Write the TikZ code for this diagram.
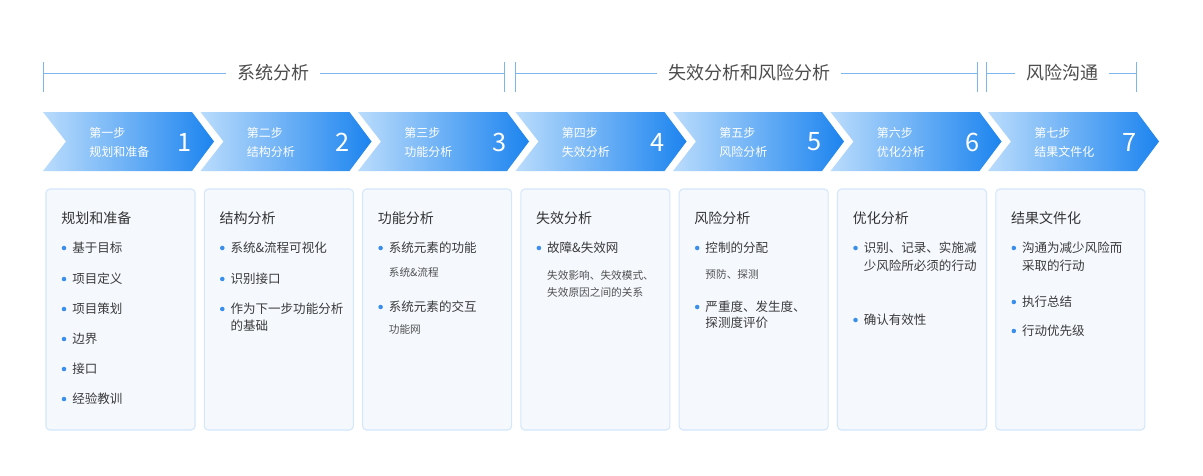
\documentclass[tikz,border=0pt]{standalone}
\usepackage{fontspec}
\setmainfont{Noto Sans CJK SC}
\definecolor{brc}{HTML}{7DB6EE}
\definecolor{brtxt}{HTML}{4D4D4D}
\definecolor{chl}{HTML}{BADCFC}
\definecolor{chr}{HTML}{1C84EF}
\definecolor{cardf}{HTML}{F5F9FE}
\definecolor{cardb}{HTML}{D3E6FA}
\definecolor{dotc}{HTML}{3A8EEE}
\definecolor{ttl}{HTML}{333333}
\definecolor{itm}{HTML}{3A3A3A}
\definecolor{subc}{HTML}{505050}
\tikzset{
  brline/.style={draw=brc, line width=0.7pt},
  brtext/.style={font=\fontsize{13.5pt}{16pt}\selectfont, text=brtxt, inner xsep=8pt, inner ysep=0pt},
  steptxt/.style={font=\fontsize{9pt}{11pt}\selectfont, text=white, anchor=west, inner sep=0pt},
  stepnum/.style={font=\fontsize{19pt}{22pt}\selectfont, text=white, inner sep=0pt},
  cardbox/.style={draw=cardb, fill=cardf, rounded corners=3pt, line width=0.8pt},
  ctitle/.style={font=\fontsize{10.5pt}{12pt}\selectfont, text=ttl, anchor=west, inner sep=0pt},
  citem/.style={font=\fontsize{9.4pt}{11pt}\selectfont, text=itm, anchor=west, inner sep=0pt},
  csub/.style={font=\fontsize{8pt}{10pt}\selectfont, text=subc, anchor=west, inner sep=0pt},
  dotn/.style={circle, fill=dotc, inner sep=0pt, minimum size=3.4pt}
}
\newcommand\cardbul[4]{\node[dotn] (#1d) at (#2+18,#3) {}; \node[citem] (#1) at (#2+26,#3) {#4};}
\newcommand\cardline[4]{\node[citem] (#1) at (#2+26,#3) {#4};}
\newcommand\cardsub[4]{\node[csub] (#1) at (#2+26,#3) {#4};}
\newcommand\cardttl[3]{\node[ctitle] (#1) at (#2+15,218) {#3};}
\begin{document}
\begin{tikzpicture}[x=0.75pt,y=-0.75pt]
\useasboundingbox (0,0) rectangle (1203,475);
\fill[white] (0,0) rectangle (1203,475);
% brackets
\node[brtext] (b1t) at (273,73) {系统分析};
\coordinate (b1l) at (43,73); \coordinate (b1r) at (504,73);
\draw[brline] (b1l) -- (b1t.west); \draw[brline] (b1t.east) -- (b1r);
\draw[brline] (43,62) -- (43,92); \draw[brline] (504,62) -- (504,92);
\node[brtext] (b2t) at (749,73) {失效分析和风险分析};
\coordinate (b2l) at (515,73); \coordinate (b2r) at (977,73);
\draw[brline] (b2l) -- (b2t.west); \draw[brline] (b2t.east) -- (b2r);
\draw[brline] (515,62) -- (515,92); \draw[brline] (977,62) -- (977,92);
\node[brtext] (b3t) at (1062,73) {风险沟通};
\coordinate (b3l) at (986,73); \coordinate (b3r) at (1136,73);
\draw[brline] (b3l) -- (b3t.west); \draw[brline] (b3t.east) -- (b3r);
\draw[brline] (986,62) -- (986,92); \draw[brline] (1136,62) -- (1136,92);
% chevrons
\foreach \i/\t/\s in {1/第一步/规划和准备, 2/第二步/结构分析, 3/第三步/功能分析, 4/第四步/失效分析, 5/第五步/风险分析, 6/第六步/优化分析, 7/第七步/结果文件化}{
  \pgfmathsetmacro\x{43+157.5*(\i-1)}
  \shade[left color=chl, right color=chr] (\x,112) -- (\x+149,112) -- (\x+171,141.5) -- (\x+149,171) -- (\x,171) -- (\x+23,141.5) -- cycle;
  \node[steptxt] (s\i a) at (\x+46,133) {\t};
  \node[steptxt] (s\i b) at (\x+46,152) {\s};
  \node[stepnum] (n\i) at (\x+142,142) {\i};
}
% cards
\foreach \i in {1,...,7}{
  \pgfmathsetmacro\x{46+158.3*(\i-1)}
  \draw[cardbox] (\x,189) rectangle (\x+149,430);
}
% card 1
\cardttl{c1t}{46}{规划和准备}
\cardbul{c1a}{46}{248}{基于目标}
\cardbul{c1b}{46}{279}{项目定义}
\cardbul{c1c}{46}{309}{项目策划}
\cardbul{c1e}{46}{339}{边界}
\cardbul{c1f}{46}{369}{接口}
\cardbul{c1g}{46}{399}{经验教训}
% card 2
\cardttl{c2t}{204.3}{结构分析}
\cardbul{c2a}{204.3}{248}{系统\&流程可视化}
\cardbul{c2b}{204.3}{279}{识别接口}
\cardbul{c2c}{204.3}{309}{作为下一步功能分析}
\cardline{c2d}{204.3}{326}{的基础}
% card 3
\cardttl{c3t}{362.6}{功能分析}
\cardbul{c3a}{362.6}{248}{系统元素的功能}
\cardsub{c3b}{362.6}{272}{系统\&流程}
\cardbul{c3c}{362.6}{307}{系统元素的交互}
\cardsub{c3d}{362.6}{329}{功能网}
% card 4
\cardttl{c4t}{520.9}{失效分析}
\cardbul{c4a}{520.9}{248}{故障\&失效网}
\cardsub{c4b}{520.9}{275}{失效影响、失效模式、}
\cardsub{c4c}{520.9}{292}{失效原因之间的关系}
% card 5
\cardttl{c5t}{679.2}{风险分析}
\cardbul{c5a}{679.2}{248}{控制的分配}
\cardsub{c5b}{679.2}{274}{预防、探测}
\cardbul{c5c}{679.2}{307}{严重度、发生度、}
\cardline{c5d}{679.2}{323}{探测度评价}
% card 6
\cardttl{c6t}{837.5}{优化分析}
\cardbul{c6a}{837.5}{248}{识别、记录、实施减}
\cardline{c6b}{837.5}{266}{少风险所必须的行动}
\cardbul{c6c}{837.5}{320}{确认有效性}
% card 7
\cardttl{c7t}{995.8}{结果文件化}
\cardbul{c7a}{995.8}{248}{沟通为减少风险而}
\cardline{c7b}{995.8}{266}{采取的行动}
\cardbul{c7c}{995.8}{302}{执行总结}
\cardbul{c7d}{995.8}{331}{行动优先级}
\end{tikzpicture}
\end{document}
